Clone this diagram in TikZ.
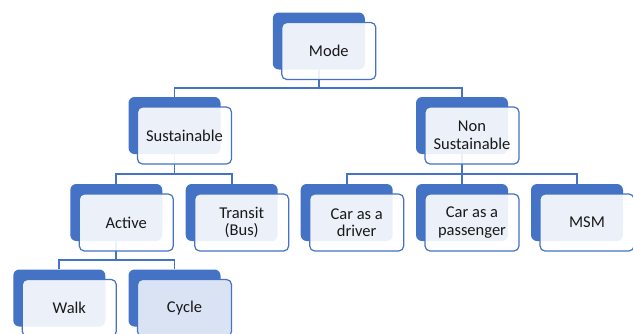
\documentclass[tikz,border=0pt]{standalone}
\usepackage{fontspec}
\setmainfont{Carlito}
\usepackage{tikz}
\definecolor{smblue}{RGB}{68,114,196}
\definecolor{smpale}{RGB}{218,227,243}

\begin{document}
\begin{tikzpicture}[x=1pt, y=-1pt,
  back/.style={fill=smblue, rounded corners=6pt, minimum width=92pt, minimum height=57pt, inner sep=0pt},
  front/.style={draw=smblue, line width=1.2pt, fill=white, fill opacity=0.9, text opacity=1,
    rounded corners=5pt, minimum width=94pt, minimum height=57pt, inner sep=0pt,
    align=center, text=black!90, font=\fontsize{16.5}{17.5}\selectfont},
  link/.style={draw=smblue, line width=1.8pt}]
  \useasboundingbox (0,0) rectangle (633,333);
  \clip (0,0) rectangle (633,333);

  % back boxes
  \node[back] (mode) at (318.8,41) {};
  \node[back] (sus) at (174.5,125.5) {};
  \node[back] (non) at (462,125.5) {};
  \node[back] (act) at (116.3,212.5) {};
  \node[back] (bus) at (231.7,212.5) {};
  \node[back] (drv) at (346.7,212.5) {};
  \node[back] (pas) at (462,212.5) {};
  \node[back] (msm) at (577,212.5) {};
  \node[back] (walk) at (59.3,298) {};
  \node[back] (cyc) at (174.5,298) {};

  % connectors
  \draw[link] (mode.south) -- ++(0,18) -| (sus.north);
  \draw[link] (mode.south) -- ++(0,18) -| (non.north);
  \draw[link] (sus.south) -- ++(0,20) -| (act.north);
  \draw[link] (sus.south) -- ++(0,20) -| (bus.north);
  \draw[link] (non.south) -- ++(0,20) -| (drv.north);
  \draw[link] (non.south) -- ++(0,20) -| (pas.north);
  \draw[link] (non.south) -- ++(0,20) -| (msm.north);
  \draw[link] (act.south) -- ++(0,19) -| (walk.north);
  \draw[link] (act.south) -- ++(0,19) -| (cyc.north);

  % front boxes
  \node[front] (mode-f) at (328.8,51) {Mode};
  \node[front] (sus-f) at (184.5,135.5) {Sustainable};
  \node[front] (non-f) at (472,135.5) {Non\\Sustainable};
  \node[front] (act-f) at (126.3,222.5) {Active};
  \node[front] (bus-f) at (241.7,222.5) {Transit\\(Bus)};
  \node[front] (drv-f) at (356.7,222.5) {Car as a\\driver};
  \node[front] (pas-f) at (472,222.5) {Car as a\\passenger};
  \node[front] (msm-f) at (587,222.5) {MSM};
  \node[front] (walk-f) at (69.3,308) {Walk};
  \node[front, fill=smpale, fill opacity=1] (cyc-f) at (184.5,308) {Cycle};
\end{tikzpicture}
\end{document}
